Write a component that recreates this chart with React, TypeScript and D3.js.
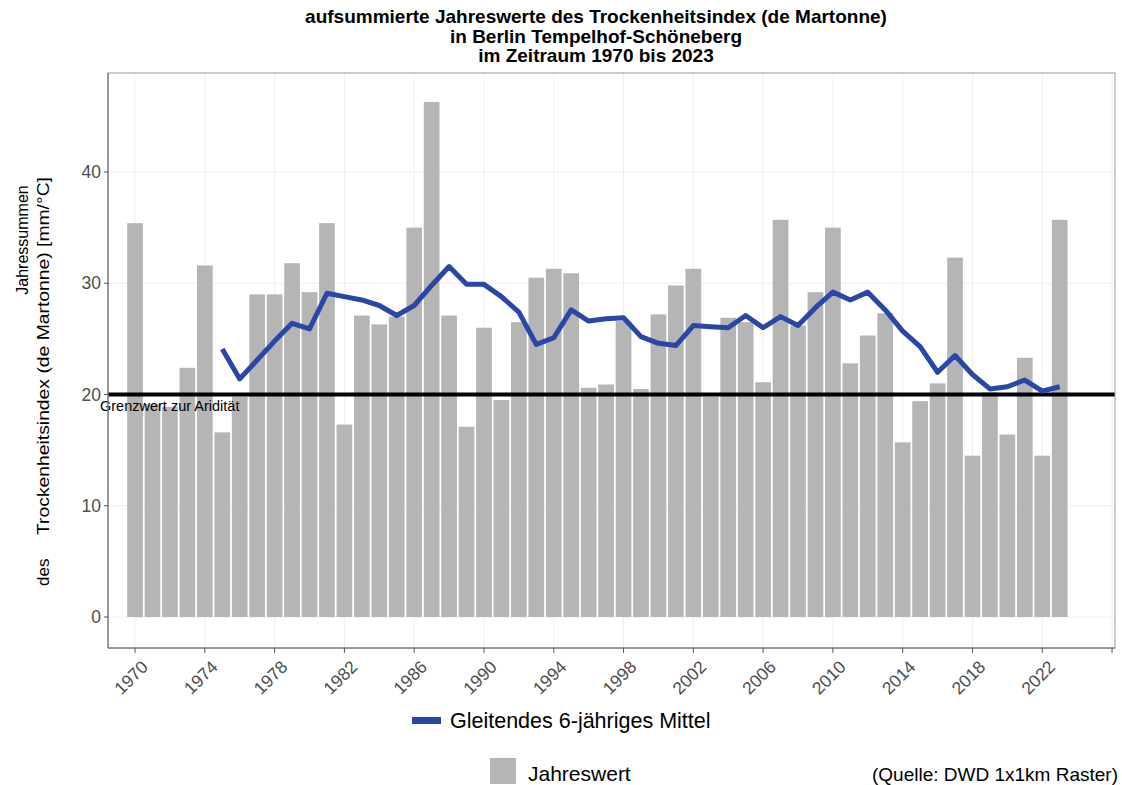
import React from "react";
import * as d3 from "d3";

const years: number[] = d3.range(1970, 2024);
const annualValues: number[] = [
  35.4, 19.1, 18.9, 22.4, 31.6, 16.6, 19.8, 29.0, 29.0, 31.8,
  29.2, 35.4, 17.3, 27.1, 26.3, 27.0, 35.0, 46.3, 27.1, 17.1,
  26.0, 19.5, 26.5, 30.5, 31.3, 30.9, 20.6, 20.9, 26.6, 20.5,
  27.2, 29.8, 31.3, 19.8, 26.9, 26.5, 21.1, 35.7, 26.2, 29.2,
  35.0, 22.8, 25.3, 27.3, 15.7, 19.4, 21.0, 32.3, 14.5, 20.2,
  16.4, 23.3, 14.5, 35.7,
];
const maYears: number[] = d3.range(1975, 2024);
const maValues: number[] = [
  24.1, 21.4, 23.1, 24.8, 26.4, 25.9, 29.1, 28.8, 28.5, 28.0,
  27.1, 28.0, 29.8, 31.5, 29.9, 29.9, 28.8, 27.4, 24.5, 25.1,
  27.6, 26.6, 26.8, 26.9, 25.2, 24.6, 24.4, 26.2, 26.1, 26.0,
  27.1, 26.0, 27.0, 26.2, 27.8, 29.2, 28.5, 29.2, 27.6, 25.7,
  24.3, 22.0, 23.5, 21.8, 20.5, 20.7, 21.3, 20.3, 20.7,
];
const xTicks: number[] = d3.range(1970, 2027, 4);
const yTicks: number[] = [0, 10, 20, 30, 40];
const threshold = 20;
const titleLines: string[] = [
  "aufsummierte Jahreswerte des Trockenheitsindex (de Martonne)",
  "in Berlin Tempelhof-Schöneberg",
  "im Zeitraum 1970 bis 2023",
];

const FONT = "'Liberation Sans', Arial, Helvetica, sans-serif";

export default function App() {
  const W = 1122, H = 785;
  const left = 108, right = 1115, top = 73, bottom = 648;
  const x = d3.scaleLinear().domain([1968.45, 2026.17]).range([left, right]);
  const y = d3.scaleLinear().domain([0, 40]).range([617, 172]);
  const bw = (x(1971) - x(1970)) * 0.9;
  const line = d3
    .line<number>()
    .x((_, i) => x(maYears[i]))
    .y((d) => y(d));

  return (
    <svg
      width={W}
      height={H}
      style={{ position: "absolute", left: 0, top: 0, background: "#fff" }}
      fontFamily={FONT}
    >
      <rect x={0} y={0} width={W} height={H} fill="#fff" />
      {/* title */}
      {titleLines.map((t, i) => (
        <text
          key={i}
          x={596}
          y={23 + i * 19.5}
          textAnchor="middle"
          fontWeight="bold"
          fontSize={19}
          fill="#000"
        >
          {t}
        </text>
      ))}
      {/* grid */}
      {yTicks.map((v) => (
        <line key={"gy" + v} x1={left} x2={right} y1={y(v)} y2={y(v)} stroke="#efefef" strokeWidth={1} />
      ))}
      {xTicks.map((v) => (
        <line key={"gx" + v} x1={x(v)} x2={x(v)} y1={top} y2={bottom} stroke="#efefef" strokeWidth={1} />
      ))}
      {/* bars */}
      {annualValues.map((v, i) => (
        <rect
          key={"b" + i}
          x={x(years[i]) - bw / 2}
          y={y(v)}
          width={bw}
          height={y(0) - y(v)}
          fill="#b5b5b5"
        />
      ))}
      {/* threshold */}
      <line x1={left} x2={right} y1={y(threshold)} y2={y(threshold)} stroke="#000" strokeWidth={4} />
      <text x={100} y={y(threshold) + 16} fontSize={14.5} fill="#000">
        Grenzwert zur Aridität
      </text>
      {/* moving average */}
      <path d={line(maValues) || ""} fill="none" stroke="#2a47a6" strokeWidth={5} strokeLinejoin="round" />
      {/* panel border */}
      <rect x={left} y={top} width={right - left} height={bottom - top} fill="none" stroke="#9a9a9a" strokeWidth={1} />
      <line x1={left} x2={left} y1={top} y2={bottom} stroke="#666" strokeWidth={1} />
      <line x1={left} x2={right} y1={bottom} y2={bottom} stroke="#666" strokeWidth={1} />
      {/* y axis */}
      {yTicks.map((v) => (
        <g key={"yt" + v}>
          <line x1={left - 4} x2={left} y1={y(v)} y2={y(v)} stroke="#555" />
          <text x={left - 7} y={y(v) + 6} textAnchor="end" fontSize={17.5} fill="#4d4d4d">
            {v}
          </text>
        </g>
      ))}
      {/* x axis */}
      {xTicks.map((v) => (
        <g key={"xt" + v}>
          <line x1={x(v)} x2={x(v)} y1={bottom} y2={bottom + 5} stroke="#555" />
          {v <= 2022 && (
            <text
              transform={`translate(${x(v) + 14},${bottom + 20}) rotate(-45)`}
              textAnchor="end"
              fontSize={17.5}
              fill="#4d4d4d"
            >
              {v}
            </text>
          )}
        </g>
      ))}
      {/* y label */}
      <text transform="translate(28,240) rotate(-90)" textAnchor="middle" fontSize={16} fill="#000">
        Jahressummen
      </text>
      <text transform="translate(49,586) rotate(-90)" textAnchor="start" fontSize={17} fill="#000">
        des
      </text>
      <text
        transform="translate(49,535) rotate(-90)"
        textAnchor="start"
        fontSize={17}
        fill="#000"
        textLength={358}
        lengthAdjust="spacingAndGlyphs"
      >
        Trockenheitsindex (de Martonne) [mm/°C]
      </text>
      {/* legend */}
      <rect x={412} y={717} width={29} height={7} fill="#2a47a6" />
      <text x={450} y={728} fontSize={21.5} fill="#000">
        Gleitendes 6-jähriges Mittel
      </text>
      <rect x={490} y={758} width={26} height={26} fill="#b5b5b5" />
      <text x={528} y={781} fontSize={21} fill="#000">
        Jahreswert
      </text>
      <text x={1118} y={781} textAnchor="end" fontSize={19} fill="#000">
        (Quelle: DWD 1x1km Raster)
      </text>
    </svg>
  );
}
